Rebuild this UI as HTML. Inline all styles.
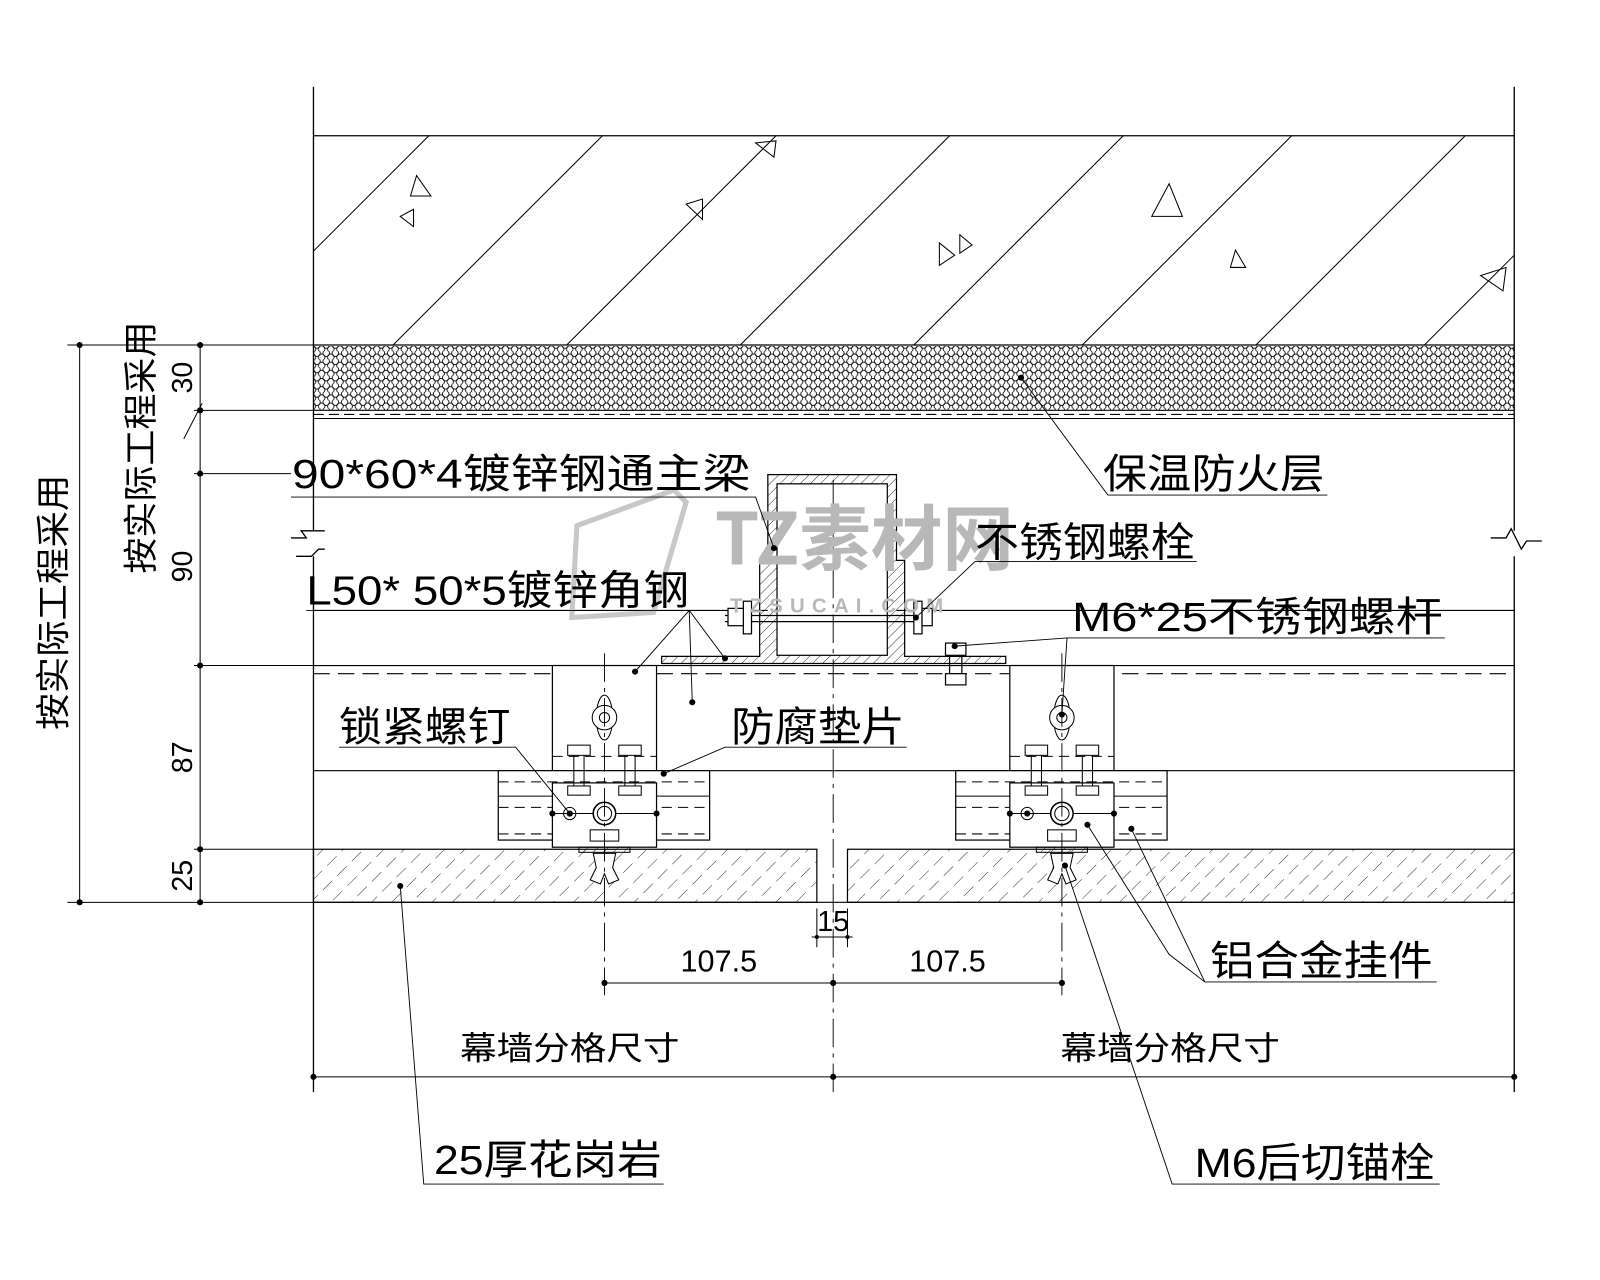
<!DOCTYPE html>
<html><head><meta charset="utf-8"><style>
html,body{margin:0;padding:0;background:#fff;}
svg{display:block;}
text{font-family:"Liberation Sans","Noto Sans CJK SC",sans-serif;fill:#000;}
.c{font-family:"Noto Sans CJK SC","WenQuanYi Zen Hei",sans-serif;}
</style></head><body>
<svg width="1600" height="1280" viewBox="0 0 1567 1254" preserveAspectRatio="none" xmlns="http://www.w3.org/2000/svg">
<defs>
<pattern id="hex" width="9" height="8" patternUnits="userSpaceOnUse">
<circle cx="4.5" cy="2" r="3.2" fill="none" stroke="#000" stroke-width="0.8"/>
<circle cx="0" cy="6" r="3.2" fill="none" stroke="#000" stroke-width="0.8"/>
<circle cx="9" cy="6" r="3.2" fill="none" stroke="#000" stroke-width="0.8"/>
</pattern>
<pattern id="h45" width="7" height="7" patternUnits="userSpaceOnUse" patternTransform="rotate(45)">
<line x1="0" y1="0" x2="0" y2="7" stroke="#000" stroke-width="0.8"/>
</pattern>
<pattern id="gran" width="14" height="20" patternUnits="userSpaceOnUse" patternTransform="rotate(45)">
<line x1="0" y1="0" x2="0" y2="13" stroke="#000" stroke-width="0.8"/>
</pattern>
<g id="brk">
<rect x="541" y="652" width="102" height="103" fill="#fff" stroke="#000" stroke-width="1.2"/>
<line x1="541" y1="741" x2="643" y2="741" stroke="#000" stroke-dasharray="10,6"/>
<rect x="488" y="755" width="207" height="68" fill="#fff" stroke="#000" stroke-width="1.2"/>
<line x1="488" y1="766" x2="695" y2="766" stroke="#000" stroke-dasharray="10,6"/>
<line x1="488" y1="780" x2="695" y2="780" stroke="#000"/>
<line x1="488" y1="791" x2="695" y2="791" stroke="#000" stroke-dasharray="10,6"/>
<line x1="488" y1="817" x2="695" y2="817" stroke="#000" stroke-dasharray="10,6"/>
<rect x="541" y="767" width="102" height="63" fill="#fff" stroke="#000" stroke-width="1.2"/>
<line x1="541" y1="797" x2="643" y2="797" stroke="#000"/>
<circle cx="541" cy="797" r="3"/><circle cx="643" cy="797" r="3"/>
<circle cx="592" cy="797" r="11" fill="#fff" stroke="#000" stroke-width="1.5"/>
<circle cx="592" cy="797" r="7" fill="none" stroke="#000"/>
<circle cx="558" cy="797" r="6" fill="none" stroke="#000"/><circle cx="558" cy="797" r="3"/>
<ellipse cx="592" cy="703" rx="8" ry="22" fill="#fff" stroke="#000"/>
<circle cx="592" cy="703" r="12" fill="#fff" stroke="#000"/>
<circle cx="592" cy="703" r="5" fill="none" stroke="#000"/>
<rect x="556" y="730" width="22" height="10" fill="#fff" stroke="#000"/>
<rect x="606" y="730" width="22" height="10" fill="#fff" stroke="#000"/>
<rect x="556" y="770" width="22" height="9" fill="#fff" stroke="#000"/>
<rect x="606" y="770" width="22" height="9" fill="#fff" stroke="#000"/>
<line x1="562" y1="740" x2="562" y2="770" stroke="#000"/><line x1="572" y1="740" x2="572" y2="770" stroke="#000"/>
<line x1="612" y1="740" x2="612" y2="770" stroke="#000"/><line x1="622" y1="740" x2="622" y2="770" stroke="#000"/>
<rect x="578" y="813" width="28" height="11" fill="#fff" stroke="#000"/>
<rect x="567" y="830" width="50" height="5" fill="url(#h45)" stroke="#000"/>
<path d="M581 836 L603 836 L600 850 L606 862 L596 866 L592 856 L588 866 L578 862 L584 850 Z" fill="#fff" stroke="#000"/>
</g>
</defs>

<g stroke="#000" stroke-width="1.3" fill="none">
<line x1="307" y1="85" x2="307" y2="520"/><line x1="307" y1="545" x2="307" y2="1070"/>
<line x1="1483" y1="85" x2="1483" y2="520"/><line x1="1483" y1="545" x2="1483" y2="1070"/>
<polyline points="285,527 300,527 295,520 318,520"/>
<polyline points="290,545 305,545 312,538 318,538"/>
<polyline points="1460,527 1475,527 1480,518 1490,538 1495,530 1510,530"/>
<line x1="307" y1="133" x2="1483" y2="133"/>
</g>
<svg x="307" y="133" width="1176" height="205" viewBox="307 133 1176 205">
<g stroke="#000" stroke-width="1" fill="none">
<line x1="215" y1="338" x2="420" y2="133"/>
<line x1="385" y1="338" x2="590" y2="133"/>
<line x1="555" y1="338" x2="760" y2="133"/>
<line x1="725" y1="338" x2="930" y2="133"/>
<line x1="895" y1="338" x2="1100" y2="133"/>
<line x1="1060" y1="338" x2="1265" y2="133"/>
<line x1="1230" y1="338" x2="1435" y2="133"/>
<line x1="1395" y1="338" x2="1600" y2="133"/>
<polygon points="408,172 422,192 402,192"/><polygon points="405,205 392,212 405,222"/>
<polygon points="740,140 760,138 758,154"/><polygon points="672,200 688,195 688,215"/>
<polygon points="920,238 935,250 920,260"/><polygon points="940,230 952,240 940,248"/>
<polygon points="1145,180 1158,212 1128,212"/><polygon points="1210,245 1220,262 1205,262"/>
<polygon points="1450,270 1475,262 1472,285"/>
</g></svg>
<line x1="307" y1="338" x2="1483" y2="338" stroke="#000" stroke-width="1.2"/>
<rect x="307" y="339" width="1176" height="63" fill="url(#hex)"/>
<g stroke="#000" stroke-width="1.1">
<line x1="307" y1="402" x2="1483" y2="402"/>
<line x1="307" y1="406" x2="1483" y2="406" stroke-dasharray="10,5"/>
<line x1="307" y1="410" x2="1483" y2="410"/>
<line x1="307" y1="598" x2="752" y2="598"/><line x1="878" y1="598" x2="1483" y2="598"/>
<line x1="307" y1="652" x2="1483" y2="652"/>
<line x1="307" y1="660" x2="1483" y2="660" stroke-dasharray="16,8"/>
<line x1="307" y1="755" x2="1483" y2="755"/>
<line x1="307" y1="884" x2="1483" y2="884"/>
</g>
<rect x="307" y="832" width="493" height="52" fill="url(#gran)" stroke="#000" stroke-width="1.2"/>
<rect x="830" y="832" width="653" height="52" fill="url(#gran)" stroke="#000" stroke-width="1.2"/>

<use href="#brk"/>
<use href="#brk" transform="translate(448,0)"/>

<g stroke="#000" stroke-width="1.2">
<path d="M648 650 L648 643 L744 643 L744 549 L752 549 L752 465 L878 465 L878 549 L886 549 L886 643 L985 643 L985 650 Z" fill="url(#h45)"/>
<rect x="761" y="474" width="108" height="168" fill="#fff"/>
<line x1="710" y1="603" x2="910" y2="603"/><line x1="710" y1="609" x2="910" y2="609"/>
<rect x="728" y="589" width="8" height="32" fill="#fff"/><rect x="895" y="589" width="8" height="32" fill="#fff"/>
<rect x="713" y="596" width="15" height="17" fill="#fff"/><rect x="903" y="596" width="10" height="17" fill="#fff"/>
<rect x="926" y="630" width="20" height="12" fill="#fff"/><rect x="926" y="660" width="20" height="11" fill="#fff"/>
<line x1="930" y1="642" x2="930" y2="660"/><line x1="942" y1="642" x2="942" y2="660"/>
</g>
<g stroke="#000" stroke-width="0.9" stroke-dasharray="28,6,4,6" fill="none">
<line x1="816" y1="470" x2="816" y2="1070"/>
<line x1="592" y1="640" x2="592" y2="975"/>
<line x1="1040" y1="640" x2="1040" y2="975"/>
</g>

<g stroke="#000" stroke-width="1">
<line x1="196" y1="338" x2="196" y2="884"/><line x1="78" y1="338" x2="78" y2="884"/>
<line x1="66" y1="338" x2="307" y2="338"/><line x1="190" y1="402" x2="307" y2="402"/>
<line x1="190" y1="464" x2="285" y2="464"/><line x1="190" y1="652" x2="307" y2="652"/>
<line x1="190" y1="832" x2="307" y2="832"/><line x1="66" y1="884" x2="307" y2="884"/>
<line x1="180" y1="430" x2="198" y2="395"/>
</g>
<g fill="#000"><circle cx="196" cy="338" r="3"/><circle cx="196" cy="402" r="3"/><circle cx="196" cy="464" r="3"/><circle cx="196" cy="652" r="3"/><circle cx="196" cy="832" r="3"/><circle cx="196" cy="884" r="3"/><circle cx="78" cy="338" r="3"/><circle cx="78" cy="884" r="3"/></g>
<g font-size="28" fill="#000">
<text transform="translate(188,370) rotate(-90)" text-anchor="middle">30</text>
<text transform="translate(188,555) rotate(-90)" text-anchor="middle">90</text>
<text transform="translate(188,742) rotate(-90)" text-anchor="middle">87</text>
<text transform="translate(188,858) rotate(-90)" text-anchor="middle">25</text>
</g>
<text class="c" font-size="34" transform="translate(64,715) rotate(-90)" textLength="250" lengthAdjust="spacingAndGlyphs">按实际工程采用</text>
<text class="c" font-size="34" transform="translate(150,562) rotate(-90)" textLength="247" lengthAdjust="spacingAndGlyphs">按实际工程采用</text>

<g stroke="#000" stroke-width="1">
<line x1="592" y1="963" x2="1040" y2="963"/>
<line x1="800" y1="890" x2="800" y2="928"/><line x1="830" y1="890" x2="830" y2="928"/>
<line x1="795" y1="918" x2="835" y2="918"/>
<line x1="307" y1="1055" x2="1483" y2="1055"/>
</g>
<g fill="#000"><circle cx="592" cy="963" r="3"/><circle cx="816" cy="963" r="3"/><circle cx="1040" cy="963" r="3"/><circle cx="307" cy="1055" r="3"/><circle cx="816" cy="1055" r="3"/><circle cx="1483" cy="1055" r="3"/><circle cx="800" cy="918" r="2"/><circle cx="830" cy="918" r="2"/></g>
<g font-size="30" text-anchor="middle">
<text x="704" y="952">107.5</text><text x="928" y="952">107.5</text><text x="816" y="912" font-size="28">15</text>
<text class="c" x="558" y="1038" font-size="32" textLength="215" lengthAdjust="spacingAndGlyphs">幕墙分格尺寸</text>
<text class="c" x="1146" y="1038" font-size="32" textLength="215" lengthAdjust="spacingAndGlyphs">幕墙分格尺寸</text>
</g>

<text x="700" y="553" font-size="70" font-weight="bold" style="fill:#b8b8b8" class="c">TZ素材网</text>
<text x="715" y="600" font-size="20" font-weight="bold" letter-spacing="7" style="fill:#b8b8b8">TZSUCAI.COM</text>
<path d="M565 515 L660 480 L672 492 L640 600 L560 605 Z" fill="none" stroke="#c8c8c8" stroke-width="5"/>

<g stroke="#000" stroke-width="0.9" fill="none">
<polyline points="285,487 740,487 758,537"/>
<polyline points="300,598 675,598 622,658"/><line x1="675" y1="598" x2="678" y2="688"/><line x1="675" y1="598" x2="710" y2="645"/>
<polyline points="955,550 1172,550"/><line x1="955" y1="550" x2="897" y2="605"/>
<polyline points="1300,485 1085,485 1000,370"/>
<polyline points="1415,625 1045,625 1040,700"/><line x1="1045" y1="625" x2="935" y2="633"/>
<polyline points="332,732 505,732 558,797"/>
<polyline points="888,732 710,732 650,758"/>
<polyline points="1407,962 1180,962 1145,935 1065,808"/><line x1="1180" y1="962" x2="1108" y2="812"/>
<polyline points="1410,1160 1148,1160 1043,848"/>
<polyline points="650,1160 415,1160 392,868"/>
</g>
<g fill="#000"><circle cx="758" cy="537" r="3"/><circle cx="622" cy="658" r="3"/><circle cx="678" cy="688" r="3"/><circle cx="710" cy="645" r="3"/><circle cx="897" cy="605" r="3"/><circle cx="1000" cy="370" r="3"/><circle cx="1040" cy="700" r="3"/><circle cx="935" cy="633" r="3"/><circle cx="558" cy="797" r="3"/><circle cx="650" cy="758" r="3"/><circle cx="1065" cy="808" r="3"/><circle cx="1108" cy="812" r="3"/><circle cx="1043" cy="848" r="3"/><circle cx="392" cy="868" r="3"/></g>

<g font-size="40">
<text x="286" y="478" textLength="449" lengthAdjust="spacingAndGlyphs">90*60*4镀锌钢通主梁</text>
<text x="300" y="592" textLength="375" lengthAdjust="spacingAndGlyphs">L50* 50*5镀锌角钢</text>
<text class="c" x="955" y="545" textLength="215" lengthAdjust="spacingAndGlyphs">不锈钢螺栓</text>
<text class="c" x="1080" y="478" textLength="217" lengthAdjust="spacingAndGlyphs">保温防火层</text>
<text x="1050" y="618" textLength="363" lengthAdjust="spacingAndGlyphs">M6*25不锈钢螺杆</text>
<text class="c" x="332" y="726" textLength="168" lengthAdjust="spacingAndGlyphs">锁紧螺钉</text>
<text class="c" x="716" y="726" textLength="170" lengthAdjust="spacingAndGlyphs">防腐垫片</text>
<text class="c" x="1185" y="955" textLength="218" lengthAdjust="spacingAndGlyphs">铝合金挂件</text>
<text x="425" y="1150" textLength="223" lengthAdjust="spacingAndGlyphs">25厚花岗岩</text>
<text x="1170" y="1153" textLength="235" lengthAdjust="spacingAndGlyphs">M6后切锚栓</text>
</g>
</svg>
</body></html>
